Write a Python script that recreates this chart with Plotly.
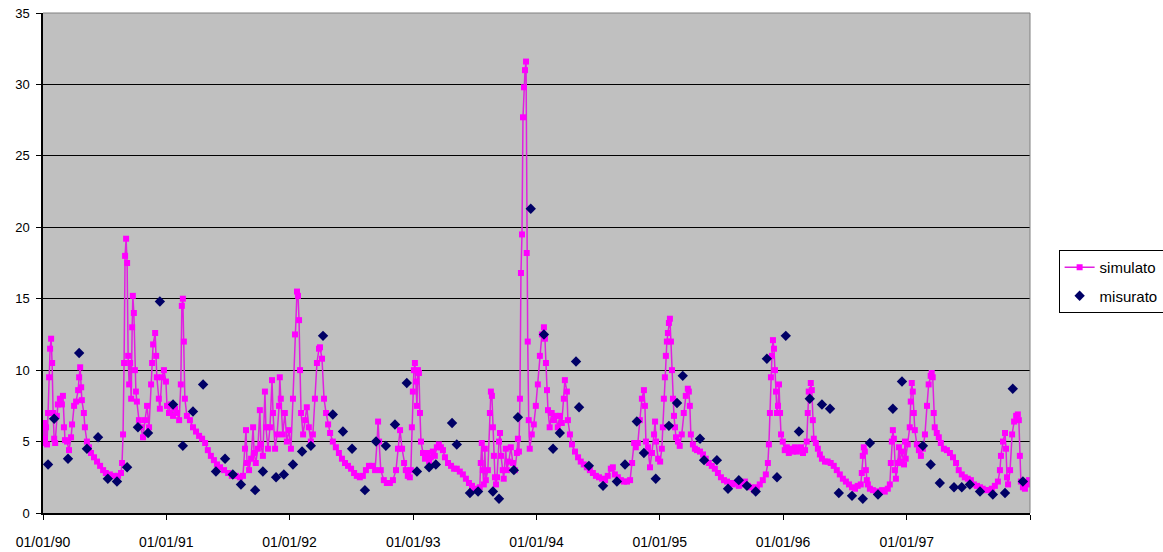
# Portata simulata vs misurata 1990-1997
import pandas as pd
import plotly.graph_objects as go

# giorni dal 01/01/1990 e valori della serie simulata
sim_days = [
    # 1990
    0, 3, 6, 9, 12, 15, 18, 21, 24, 27, 30, 33, 36, 41, 44, 50, 56, 59, 62, 65,
    71, 77, 83, 86, 92, 98, 104, 107, 110, 113, 115, 121, 124, 130, 136, 142, 151, 160, 169, 178,
    186, 198, 210, 222, 231, 234, 237, 240, 243, 246, 249, 252, 255, 258, 261, 264, 266, 269, 272, 275,
    278, 284, 290, 296, 302, 308, 314, 320, 323, 326, 332, 335, 337, 343, 346, 352, 358, 364,
    # 1991
    367, 373, 379, 385, 391, 397, 403, 408, 411, 414, 417, 420, 426, 435, 444, 453, 462, 471, 480, 488,
    497, 506, 515, 524, 536, 548, 559, 571, 583, 592, 598, 601, 604, 610, 616, 622, 625, 630, 636, 642,
    645, 651, 657, 660, 666, 672, 678, 681, 687, 693, 699, 701, 704, 710, 716, 722,
    # 1992
    728, 734, 740, 746, 752, 755, 758, 761, 764, 770, 776, 781, 787, 793, 799, 805, 811, 817, 820, 826,
    832, 838, 844, 850, 858, 867, 876, 885, 894, 903, 912, 921, 929, 938, 947, 956, 965, 974, 983, 989,
    992, 995, 1000, 1009, 1018, 1027, 1036, 1045, 1051, 1057, 1063, 1069, 1074, 1080, 1086, 1089,
    # 1993
    1092, 1095, 1098, 1101, 1104, 1107, 1110, 1113, 1116, 1119, 1125, 1131, 1137, 1143, 1148, 1154, 1160, 1166, 1172, 1178,
    1184, 1190, 1199, 1208, 1217, 1225, 1234, 1243, 1252, 1261, 1270, 1279, 1288, 1293, 1296, 1299, 1302, 1305, 1308, 1311,
    1317, 1323, 1326, 1329, 1332, 1335, 1338, 1341, 1344, 1350, 1353, 1356, 1361, 1364, 1370, 1373, 1379, 1385, 1391, 1397,
    1403, 1406, 1409, 1412, 1415, 1418, 1421, 1424, 1427, 1430, 1432, 1435, 1438, 1441, 1447, 1453,
    # 1994
    1459, 1465, 1471, 1477, 1483, 1486, 1489, 1492, 1495, 1500, 1506, 1512, 1518, 1524, 1530, 1536, 1542, 1545, 1551, 1554,
    1560, 1566, 1575, 1584, 1592, 1601, 1610, 1619, 1628, 1637, 1646, 1655, 1664, 1672, 1681, 1687, 1693, 1702, 1711, 1720,
    1729, 1738, 1744, 1750, 1755, 1761, 1767, 1773, 1779, 1782, 1785, 1791, 1797, 1803, 1809, 1812, 1815, 1821,
    # 1995
    1827, 1832, 1835, 1838, 1841, 1844, 1847, 1850, 1853, 1856, 1859, 1862, 1865, 1868, 1871, 1874, 1880, 1885, 1891, 1897,
    1903, 1909, 1912, 1915, 1918, 1924, 1930, 1936, 1945, 1954, 1962, 1971, 1980, 1989, 1998, 2007, 2016, 2025, 2034, 2042,
    2051, 2060, 2069, 2078, 2087, 2096, 2105, 2113, 2122, 2131, 2140, 2146, 2149, 2152, 2155, 2158, 2161, 2164, 2167, 2170,
    2173, 2176, 2179, 2182, 2185, 2190,
    # 1996
    2196, 2202, 2208, 2214, 2220, 2226, 2232, 2238, 2244, 2250, 2256, 2261, 2264, 2267, 2270, 2273, 2276, 2279, 2282, 2288,
    2294, 2300, 2306, 2315, 2323, 2332, 2341, 2350, 2359, 2368, 2377, 2386, 2395, 2404, 2412, 2421, 2424, 2427, 2430, 2433,
    2436, 2439, 2442, 2448, 2457, 2466, 2475, 2484, 2492, 2501, 2507, 2510, 2513, 2516, 2519, 2522, 2525, 2531, 2534, 2537,
    2543, 2549, 2552, 2554,
    # 1997
    2560, 2566, 2569, 2572, 2575, 2578, 2581, 2587, 2593, 2599, 2605, 2611, 2617, 2622, 2628, 2631, 2634, 2637, 2640, 2646,
    2652, 2658, 2667, 2676, 2685, 2694, 2703, 2711, 2720, 2729, 2738, 2747, 2756, 2765, 2774, 2782, 2791, 2800, 2809, 2818,
    2827, 2833, 2836, 2842, 2848, 2851, 2854, 2857, 2863, 2869, 2875, 2881, 2886, 2889, 2892, 2895, 2901, 2907, 2913, 2919,
]
sim_values = [
    # 1990
    4.9, 6.3, 5.2, 6.0, 4.8, 7.0, 9.5, 11.5, 12.2, 10.5, 7.0, 5.2, 4.9, 6.8, 7.6, 8.0, 7.6, 8.2, 6.0, 5.1,
    5.0, 4.4, 5.3, 6.2, 7.5, 7.8, 8.6, 9.5, 10.2, 8.8, 7.9, 7.0, 6.0, 5.0, 4.6, 4.2, 3.9, 3.6, 3.3, 3.0,
    2.8, 2.7, 2.6, 2.6, 2.8, 3.5, 5.5, 10.5, 18.0, 19.2, 17.5, 11.0, 9.0, 10.5, 8.0, 13.0, 15.2, 14.0, 10.0, 8.5,
    7.8, 6.5, 6.0, 5.3, 6.5, 7.5, 6.0, 9.0, 10.5, 11.8, 12.6, 11.0, 9.5, 8.0, 7.3, 9.5, 10.0, 9.2,
    # 1991
    7.5, 7.0, 7.6, 6.8, 7.3, 7.0, 6.5, 9.0, 14.5, 15.0, 12.0, 8.0, 6.8, 6.5, 6.0, 5.7, 5.4, 5.2, 4.9, 4.4,
    4.0, 3.7, 3.4, 3.2, 3.0, 2.8, 2.6, 2.6, 2.5, 2.6, 4.5, 5.8, 3.5, 3.0, 3.8, 6.0, 4.2, 3.5, 4.5, 7.2,
    4.8, 4.0, 8.5, 6.0, 4.5, 6.0, 9.3, 7.0, 4.5, 5.5, 7.5, 9.5, 8.0, 5.5, 7.0, 5.0,
    # 1992
    5.8, 4.5, 8.0, 12.5, 15.5, 15.2, 13.5, 10.0, 7.0, 5.5, 6.5, 7.4, 6.0, 5.0, 5.5, 8.0, 10.5, 11.5, 11.6, 10.8,
    8.0, 7.0, 6.2, 5.6, 5.0, 4.6, 4.2, 3.8, 3.5, 3.3, 3.1, 2.8, 2.6, 2.5, 2.6, 3.0, 3.3, 3.3, 3.0, 5.0,
    6.4, 5.0, 3.0, 2.3, 2.1, 2.1, 2.3, 3.0, 4.5, 5.8, 4.5, 3.5, 3.0, 2.6, 2.5, 3.0,
    # 1993
    6.0, 8.5, 10.0, 10.5, 9.2, 7.5, 10.0, 9.8, 7.0, 5.0, 4.2, 3.8, 4.2, 3.6, 3.9, 4.3, 4.0, 4.6, 4.8, 4.6,
    4.4, 3.9, 3.5, 3.3, 3.1, 3.1, 2.9, 2.7, 2.4, 2.1, 1.9, 1.7, 1.6, 1.8, 3.5, 4.9, 3.0, 2.0, 4.5, 2.3,
    3.0, 7.0, 8.5, 8.2, 6.0, 4.0, 2.5, 2.0, 2.5, 5.0, 5.6, 4.0, 3.0, 2.4, 4.5, 3.0, 3.6, 4.6, 3.5, 3.0,
    4.2, 5.2, 4.3, 8.0, 16.8, 19.5, 27.7, 29.8, 31.0, 31.6, 18.2, 12.0, 6.5, 4.5, 5.5, 6.2,
    # 1994
    7.5, 9.0, 11.0, 12.5, 13.0, 12.2, 10.5, 8.6, 7.2, 6.0, 7.0, 6.5, 6.8, 6.0, 6.8, 6.3, 8.0, 9.3, 8.5, 6.5,
    5.5, 4.8, 4.3, 3.9, 3.6, 3.4, 3.2, 3.0, 2.8, 2.6, 2.5, 2.4, 2.3, 2.6, 3.1, 3.2, 2.7, 2.5, 2.3, 2.2,
    2.2, 2.3, 3.5, 4.9, 4.6, 4.9, 6.5, 8.0, 8.6, 7.5, 5.0, 4.6, 3.2, 4.2, 5.5, 6.4, 5.0, 3.8,
    # 1995
    3.6, 4.5, 6.0, 8.0, 9.5, 11.0, 12.0, 12.6, 13.3, 13.6, 12.0, 10.0, 8.0, 6.8, 6.0, 5.3, 5.0, 4.7, 5.5, 7.0,
    8.2, 8.7, 8.5, 7.5, 5.5, 4.8, 4.5, 4.4, 4.3, 4.1, 3.8, 3.5, 3.3, 3.1, 2.8, 2.5, 2.3, 2.2, 2.1, 2.0,
    2.1, 1.9, 2.0, 2.2, 1.9, 1.8, 1.6, 1.8, 2.0, 2.3, 2.7, 3.5, 4.8, 7.0, 9.5, 11.0, 12.1, 11.5, 10.0, 8.5,
    7.0, 7.5, 9.0, 7.0, 5.5, 5.0,
    # 1996
    4.4, 4.6, 4.2, 4.5, 4.3, 4.6, 4.3, 4.5, 4.6, 4.2, 4.4, 5.0, 7.0, 8.5, 8.0, 9.1, 8.6, 6.5, 5.2, 4.9,
    4.5, 4.1, 3.8, 3.6, 3.6, 3.5, 3.3, 3.0, 2.7, 2.4, 2.2, 2.0, 1.8, 1.7, 1.9, 2.0, 2.8, 4.0, 4.6, 4.3,
    3.0, 2.3, 2.0, 1.7, 1.6, 1.5, 1.5, 1.6, 1.5, 1.7, 2.0, 3.5, 5.0, 5.8, 5.2, 3.0, 2.4, 3.5, 4.6, 3.6,
    4.3, 3.4, 5.0, 3.8,
    # 1997
    4.8, 6.0, 7.8, 9.1, 8.5, 7.0, 5.8, 4.8, 4.4, 4.0, 4.5, 5.5, 7.5, 9.0, 9.6, 9.8, 9.5, 7.0, 6.0, 5.6,
    5.3, 4.9, 4.5, 4.4, 4.2, 3.9, 3.5, 3.0, 2.7, 2.5, 2.4, 2.3, 2.0, 1.9, 1.8, 1.7, 1.6, 1.6, 1.7, 1.9,
    2.2, 3.0, 4.0, 5.0, 5.6, 4.5, 2.5, 2.0, 3.0, 5.5, 6.4, 6.8, 6.9, 6.5, 4.0, 2.2, 1.8, 1.7, 2.0, 2.3,
]

# misure puntuali
mis_days = [
    15, 33, 74, 107, 130, 163, 192, 219, 249, 281, 311, 346, 385, 414, 444, 474, 512, 539, 562, 586,
    628, 651, 690, 713, 740, 767, 793, 829, 858, 888, 915, 953, 986, 1015, 1042, 1077, 1107, 1143, 1163, 1211,
    1225, 1264, 1288, 1332, 1350, 1394, 1406, 1444, 1483, 1510, 1530, 1578, 1587, 1616, 1658, 1699, 1723, 1758, 1779, 1814,
    1853, 1877, 1894, 1945, 1957, 1995, 2028, 2060, 2084, 2110, 2143, 2173, 2199, 2238, 2270, 2306, 2330, 2356, 2395, 2427,
    2448, 2472, 2516, 2543, 2605, 2628, 2655, 2697, 2720, 2744, 2774, 2812, 2848, 2871, 2901,
]
mis_values = [
    3.4, 6.6, 3.8, 11.2, 4.5, 5.3, 2.4, 2.2, 3.2, 6.0, 5.6, 14.8, 7.6, 4.7, 7.1, 9.0, 2.9, 3.8, 2.7, 2.0,
    1.6, 2.9, 2.5, 2.7, 3.4, 4.3, 4.7, 12.4, 6.9, 5.7, 4.5, 1.6, 5.0, 4.7, 6.2, 9.1, 2.9, 3.2, 3.4, 6.3,
    4.8, 1.4, 1.5, 1.5, 1.0, 3.0, 6.7, 21.3, 12.5, 4.5, 5.6, 10.6, 7.4, 3.3, 1.9, 2.2, 3.4, 6.4, 4.2, 2.4,
    6.1, 7.7, 9.6, 5.2, 3.7, 3.7, 1.7, 2.3, 1.9, 1.5, 10.8, 2.5, 12.4, 5.7, 8.0, 7.6, 7.3, 1.4, 1.2, 1.0,
    4.9, 1.3, 7.3, 9.2, 4.7, 3.4, 2.1, 1.8, 1.8, 2.0, 1.5, 1.3, 1.4, 8.7, 2.2,
]

tick_dates = ["1990-01-01", "1991-01-01", "1992-01-01", "1993-01-01", "1994-01-01",
              "1995-01-01", "1996-01-01", "1997-01-01", "1998-01-01"]
tick_labels = ["01/01/90", "01/01/91", "01/01/92", "01/01/93", "01/01/94",
               "01/01/95", "01/01/96", "01/01/97", ""]

assert len(sim_days) == len(sim_values)
assert len(mis_days) == len(mis_values)

base = pd.Timestamp("1990-01-01")
sim_dates = base + pd.to_timedelta(sim_days, unit="D")
mis_dates = base + pd.to_timedelta(mis_days, unit="D")

font = "Liberation Sans, Arial, sans-serif"

fig = go.Figure()
fig.add_trace(go.Scatter(
    x=sim_dates, y=sim_values, mode="lines+markers", name="simulato",
    legendgroup="sim",
    line=dict(color="#E020E0", width=1.5),
    marker=dict(symbol="square", size=6, color="#FF00FF"),
))
fig.add_trace(go.Scatter(
    x=mis_dates, y=mis_values, mode="markers", name="misurato",
    legendgroup="mis",
    marker=dict(symbol="diamond", size=8, color="#000066"),
))

# bordo grigio dell'area del grafico (lati alto e destro)
fig.add_shape(type="line", xref="paper", yref="paper", x0=0, x1=1, y0=1, y1=1,
              line=dict(color="#808080", width=1), layer="above")
fig.add_shape(type="line", xref="paper", yref="paper", x0=1, x1=1, y0=0, y1=1,
              line=dict(color="#808080", width=1), layer="above")

fig.update_layout(
    width=1163, height=552,
    margin=dict(l=43, r=133, t=13, b=39, autoexpand=False),
    paper_bgcolor="white",
    plot_bgcolor="#C0C0C0",
    font=dict(family=font, size=12, color="black"),
    showlegend=True,
    legend=dict(
        x=1.029, y=0.526, xanchor="left", yanchor="top",
        bgcolor="white", bordercolor="black", borderwidth=1,
        font=dict(size=15), traceorder="grouped", tracegroupgap=6,
        itemwidth=30,
    ),
    xaxis=dict(
        type="date", range=["1990-01-01", "1998-01-01"],
        tickmode="array", tickvals=tick_dates, ticktext=tick_labels,
        ticks="outside", ticklen=5, tickcolor="black", tickwidth=1,
        showline=True, linecolor="black", linewidth=1.5,
        showgrid=False, zeroline=False,
        tickfont=dict(size=14), ticklabelstandoff=10,
    ),
    yaxis=dict(
        range=[0, 35], dtick=5, tick0=0,
        ticks="outside", ticklen=5, tickcolor="black",
        showline=True, linecolor="black", linewidth=1.5,
        showgrid=True, gridcolor="black", gridwidth=1.2,
        zeroline=False, tickfont=dict(size=13), ticklabelstandoff=4,
    ),
)

fig.write_html("out.html", config={"displayModeBar": False},
               post_script="document.body.style.margin = '0';")
